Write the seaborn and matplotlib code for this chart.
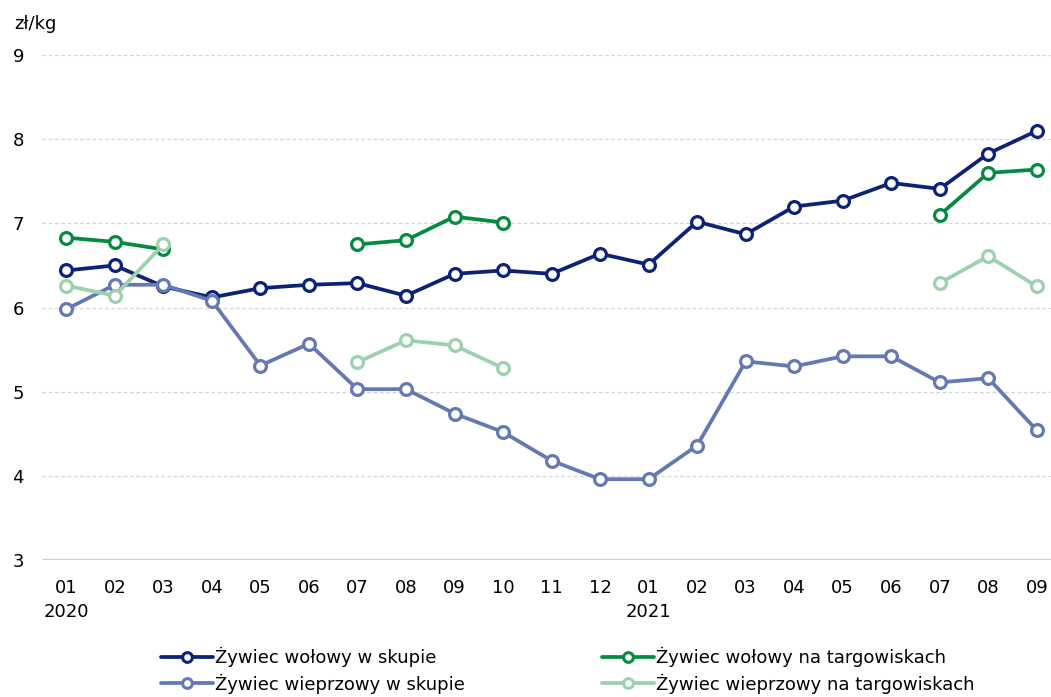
import numpy as np
import pandas as pd
import matplotlib
matplotlib.use("Agg")
import matplotlib.pyplot as plt
from matplotlib.lines import Line2D
import seaborn as sns

months = ["01", "02", "03", "04", "05", "06", "07", "08", "09", "10", "11", "12",
          "01", "02", "03", "04", "05", "06", "07", "08", "09"]
years = {0: "2020", 12: "2021"}
nan = np.nan

wolowy_skup = [6.44, 6.50, 6.25, 6.12, 6.23, 6.27, 6.29, 6.14, 6.40, 6.44, 6.40, 6.64,
               6.51, 7.02, 6.87, 7.20, 7.27, 7.48, 7.41, 7.83, 8.10]
wolowy_targ = [6.83, 6.78, 6.69, nan, nan, nan, 6.75, 6.80, 7.08, 7.01, nan, nan,
               nan, nan, nan, nan, nan, nan, 7.10, 7.60, 7.64]
wieprz_skup = [5.98, 6.27, 6.27, 6.08, 5.31, 5.57, 5.03, 5.03, 4.74, 4.52, 4.18, 3.96,
               3.96, 4.36, 5.36, 5.30, 5.42, 5.42, 5.11, 5.16, 4.54]
wieprz_targ = [6.26, 6.14, 6.75, nan, nan, nan, 5.35, 5.61, 5.55, 5.28, nan, nan,
               nan, nan, nan, nan, nan, nan, 6.29, 6.61, 6.25]

series_names = ["Żywiec wołowy w skupie", "Żywiec wołowy na targowiskach",
                "Żywiec wieprzowy w skupie", "Żywiec wieprzowy na targowiskach"]
series_values = [wolowy_skup, wolowy_targ, wieprz_skup, wieprz_targ]
colors = ["#0b2276", "#058a42", "#6478b4", "#9bd1ad"]

rows = []
for name, vals in zip(series_names, series_values):
    seg = 0
    prev_nan = True
    for i, v in enumerate(vals):
        if np.isnan(v):
            prev_nan = True
            continue
        if prev_nan:
            seg += 1
            prev_nan = False
        rows.append({"x": i, "value": v, "series": name, "seg": f"{name}-{seg}"})
df = pd.DataFrame(rows)

sns.set_theme(style="white")
plt.rcParams["font.family"] = ["DejaVu Sans"]
plt.rcParams["text.color"] = "black"
plt.rcParams["xtick.color"] = "black"
plt.rcParams["ytick.color"] = "black"

fig = plt.figure(figsize=(10.51, 6.97), dpi=100)
ax = fig.add_axes([0.04, 0.1966, 0.965, 0.7244])

for name, col in zip(series_names, colors):
    sub = df[df["series"] == name]
    sns.lineplot(data=sub, x="x", y="value", units="seg", estimator=None,
                 color=col, linewidth=2.7, marker="o", markersize=8.5,
                 markerfacecolor="white", markeredgecolor=col, markeredgewidth=2.3,
                 ax=ax, legend=False, sort=True)

ax.set_xlim(-0.5, 20.4)
ax.set_ylim(3, 9)
ax.set_yticks(range(3, 10))
ax.set_yticklabels([str(t) for t in range(3, 10)], fontsize=13)
for y in range(4, 10):
    ax.axhline(y, color="#d4d4d4", linestyle=(0, (3, 2)), linewidth=0.9, zorder=0)
ax.axhline(3, color="#d0d0d0", linewidth=1.6, zorder=0)
for s in ax.spines.values():
    s.set_visible(False)
ax.tick_params(axis="both", length=0)
ax.tick_params(axis="y", pad=13)
ax.set_xticks(range(len(months)))
ax.set_xticklabels(months, fontsize=13)
ax.tick_params(axis="x", pad=14)
ax.set_xlabel("")
ax.set_ylabel("")
ax.grid(False)

for i, yr in years.items():
    ax.text(i, -0.085, yr, transform=ax.get_xaxis_transform(), ha="center", va="top",
            fontsize=13)

fig.text(0.014, 0.965, "zł/kg", fontsize=13, ha="left", va="center")

handles = []
for name, col in zip(series_names, colors):
    handles.append(Line2D([0], [0], color=col, linewidth=2.7, marker="o", markersize=7,
                          markerfacecolor="white", markeredgecolor=col,
                          markeredgewidth=2.2, label=name))
leg_handles = [handles[0], handles[2], handles[1], handles[3]]
fig.legend(handles=leg_handles, loc="center", bbox_to_anchor=(0.540, 0.038), ncol=2,
           frameon=False, fontsize=13, handlelength=2.9, handletextpad=0.1,
           columnspacing=7.6, labelspacing=0.35)

fig.savefig("out.png", dpi=100)
